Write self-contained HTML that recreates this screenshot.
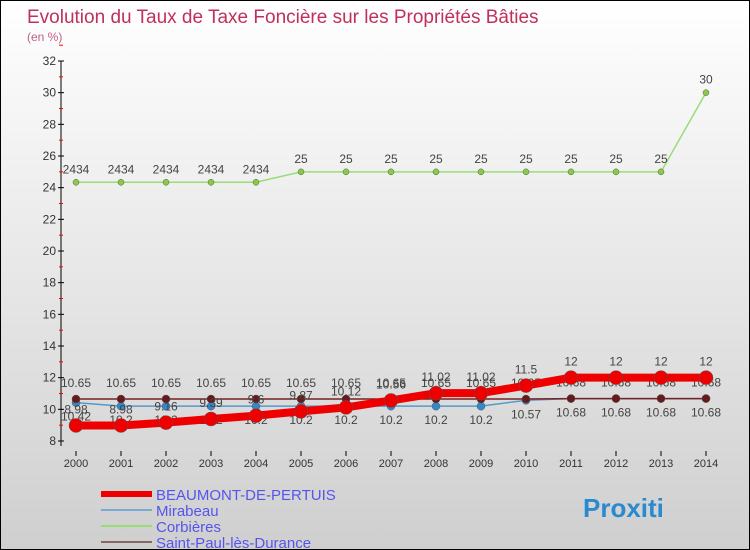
<!DOCTYPE html>
<html><head><meta charset="utf-8"><style>
body{margin:0}
#c{width:750px;height:550px;position:relative;box-sizing:border-box;border:1px solid #000;background:linear-gradient(#ffffff,#cfcfcf);font-family:"Liberation Sans",sans-serif;overflow:hidden}
</style></head><body>
<div id="c">
<svg id="s" width="750" height="550" style="position:absolute;left:0;top:0">
<text x="26" y="22" font-size="19" fill="#c0305a">Evolution du Taux de Taxe Foncière sur les Propriétés Bâties</text>
<text x="26" y="40" font-size="12" fill="#c0608a">(en %)</text>
</svg>
</div>
<script>
const years=[2000,2001,2002,2003,2004,2005,2006,2007,2008,2009,2010,2011,2012,2013,2014];
const beaumont=[8.98,8.98,9.16,9.39,9.6,9.87,10.12,10.56,11.02,11.02,11.5,12,12,12,12];
const mirabeau=[10.42,10.2,10.2,10.2,10.2,10.2,10.2,10.2,10.2,10.2,10.57,10.68,10.68,10.68,10.68];
const corbieres=[24.34,24.34,24.34,24.34,24.34,25,25,25,25,25,25,25,25,25,30];
const stpaul=[10.65,10.65,10.65,10.65,10.65,10.65,10.65,10.65,10.65,10.65,10.65,10.68,10.68,10.68,10.68];
const yTicks=[8,10,12,14,16,18,20,22,24,26,28,30,32];
const ns="http://www.w3.org/2000/svg",svg=document.getElementById('s');
const X=i=>75+i*45, Y=v=>440-(v-8)*(380/24);
function el(t,a,p){const e=document.createElementNS(ns,t);for(const k in a)e.setAttribute(k,a[k]);(p||svg).appendChild(e);return e;}
let ax=el('line',{x1:60,y1:Y(32),x2:60,y2:445,stroke:'#000'});

yTicks.forEach(v=>{el('line',{x1:57,x2:63,y1:Y(v),y2:Y(v),stroke:'#000'});
 el('line',{x1:58,x2:62,y1:Y(v+1),y2:Y(v+1),stroke:'#f00'});
 const t=el('text',{x:55,y:Y(v)+4,'text-anchor':'end','font-size':12,fill:'#333'});t.textContent=v;
 });
years.forEach((y,i)=>{el('line',{x1:X(i),x2:X(i),y1:450,y2:455,stroke:'#000'});
 const t=el('text',{x:X(i),y:466,'text-anchor':'middle','font-size':11,fill:'#333'});t.textContent=y;
 });
function series(d,col,w,r,fill,name,dy){
 const g=el('g',{});
 el('polyline',{points:d.map((v,i)=>X(i)+','+Y(v)).join(' '),fill:'none',stroke:col,'stroke-width':w},g);
 d.forEach((v,i)=>{const c=el('circle',{cx:X(i),cy:Y(v),r:r,fill:fill,stroke:'#555','stroke-width':0.5},g);
  
  const t=el('text',{x:X(i),y:Y(v)+dy,'text-anchor':'middle','font-size':12,fill:'#444'},g);t.textContent=String(v).replace('.34','34');});
}
series(corbieres,'#99dd77',1.5,3,'#88cc44','corbieres-series',-9);
series(mirabeau,'#5599cc',1.5,4,'#3388cc','mirabeau-series',18);
series(stpaul,'#772222',1.5,4,'#661a1a','saint-paul-series',-12);
series(beaumont,'#ee0000',8,7,'#ee0000','beaumont-series',-12);
const leg=[['BEAUMONT-DE-PERTUIS','#ee0000',6],['Mirabeau','#77aacc',2],['Corbières','#99dd77',2],['Saint-Paul-lès-Durance','#886666',2]];
leg.forEach((l,i)=>{const y=493+i*16;const g=el('g',{});
 el('line',{x1:100,x2:151,y1:y,y2:y,stroke:l[1],'stroke-width':l[2]},g);
 const t=el('text',{x:155,y:y+6,'font-size':15,fill:'#5555ee'},g);t.textContent=l[0];});
const p=el('text',{x:582,y:516,'font-size':26,'font-weight':'bold',fill:'#2a8ad0'});p.textContent='Proxiti';

</script>
</body></html>
